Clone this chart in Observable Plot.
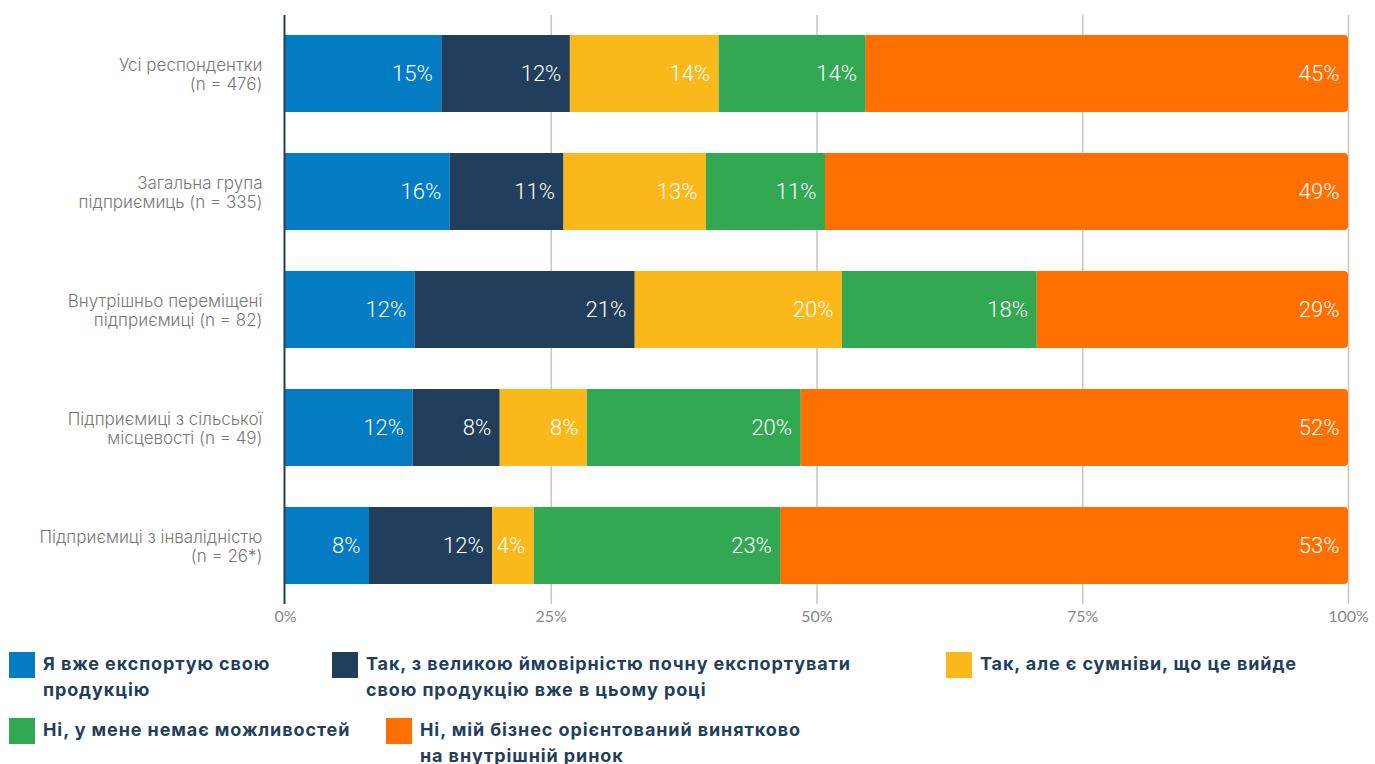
<!DOCTYPE html>
<html>
<head>
<meta charset="utf-8">
<script src="https://cdn.jsdelivr.net/npm/d3@7"></script>
<script src="https://cdn.jsdelivr.net/npm/@observablehq/plot@0.6"></script>
<style>
  html, body { margin: 0; padding: 0; background: #fff; }
  #chart { position: relative; width: 1375px; }
  #legend { position: relative; width: 1375px; height: 124px; font-family: Inter, "Noto Sans", sans-serif; font-weight: 700; font-size: 18px; letter-spacing: 0.9px; color: #213f5c; }
  .item { position: absolute; display: flex; align-items: flex-start; }
  .sw { width: 26px; height: 26px; flex: none; margin-right: 8px; }
  .lab { line-height: 26px; white-space: pre; margin-top: -1px; }
</style>
</head>
<body>
<div id="chart"></div>
<div id="legend"></div>
<script>
const categories = [
  "Усі респондентки\n(n = 476)",
  "Загальна група\nпідприємиць (n = 335)",
  "Внутрішньо переміщені\nпідприємиці (n = 82)",
  "Підприємиці з сільської\nмісцевості (n = 49)",
  "Підприємиці з інвалідністю\n(n = 26*)"
];
const seriesNames = [
  "Я вже експортую свою\nпродукцію",
  "Так, з великою ймовірністю почну експортувати\nсвою продукцію вже в цьому році",
  "Так, але є сумніви, що це вийде",
  "Ні, у мене немає можливостей",
  "Ні, мій бізнес орієнтований винятково\nна внутрішній ринок"
];
const seriesColors = ["#047cc4", "#213f5c", "#fbb81a", "#33a853", "#ff7000"];
const values = [
  [14.7, 12.1, 14.0, 13.8, 45.4],
  [15.5, 10.7, 13.4, 11.2, 49.2],
  [12.2, 20.7, 19.5, 18.3, 29.3],
  [12.0, 8.2, 8.2, 20.1, 51.5],
  [7.9, 11.6, 3.9, 23.2, 53.4]
];
const xTicks = [0, 25, 50, 75, 100];

// build table with cumulative extents
const data = [];
categories.forEach((cat, i) => {
  let acc = 0;
  values[i].forEach((v, j) => {
    data.push({group: cat, series: seriesNames[j], si: j, value: v, x1: acc, x2: acc + v});
    acc += v;
  });
});
const last = seriesNames.length - 1;
const lastData = data.filter(d => d.si === last);
const otherData = data.filter(d => d.si !== last);

const colorOpts = {domain: seriesNames, range: seriesColors};

const chart = Plot.plot({
  width: 1375,
  height: 640,
  marginLeft: 285,
  marginRight: 27,
  marginTop: 15,
  marginBottom: 36,
  style: {fontFamily: "Lato, sans-serif", background: "#fff"},
  x: {domain: [0, 100], label: null},
  y: {domain: categories, label: null, paddingInner: 0.35, paddingOuter: 0.152},
  color: colorOpts,
  marks: [
    Plot.ruleX(xTicks.slice(1), {stroke: "#c8c8c8", strokeWidth: 1.6}),
    Plot.barX(lastData, {x1: "x1", x2: "x2", y: "group", fill: "series", rx: 4}),
    Plot.barX(lastData, {x1: "x1", x2: d => d.x1 + 1, y: "group", fill: "series"}),
    Plot.barX(otherData, {x1: "x1", x2: "x2", y: "group", fill: "series"}),
    Plot.ruleX([0], {stroke: "#213f5c", strokeWidth: 2, dx: -1}),
    Plot.text(data, {
      x: "x2", y: "group",
      text: d => Math.round(d.value) + "%",
      textAnchor: "end", dx: -9,
      fill: "#ffffff", fontSize: 22, fontWeight: 300,
      fontFamily: "Roboto, sans-serif"
    }),
    Plot.axisX({ticks: xTicks, tickFormat: d => d + "%", tickSize: 0, tickPadding: 6, fontSize: 16, color: "#888888", fontWeight: 400, fontFamily: "Lato, sans-serif"}),
    Plot.axisY({tickSize: 0, tickPadding: 23, fontSize: 17, lineHeight: 1.12, color: "#777777", fontWeight: 300, fontFamily: "Inter, sans-serif"})
  ]
});
document.getElementById("chart").appendChild(chart);

// legend
const legendPos = [[9, 12], [332, 12], [946, 12], [9, 78], [386, 78]];
const legend = document.getElementById("legend");
seriesNames.forEach((name, i) => {
  const it = document.createElement("div");
  it.className = "item";
  it.style.left = legendPos[i][0] + "px";
  it.style.top = legendPos[i][1] + "px";
  const sw = document.createElement("div");
  sw.className = "sw";
  sw.style.background = seriesColors[i];
  const lab = document.createElement("div");
  lab.className = "lab";
  lab.textContent = name;
  it.appendChild(sw);
  it.appendChild(lab);
  legend.appendChild(it);
});
</script>
</body>
</html>
